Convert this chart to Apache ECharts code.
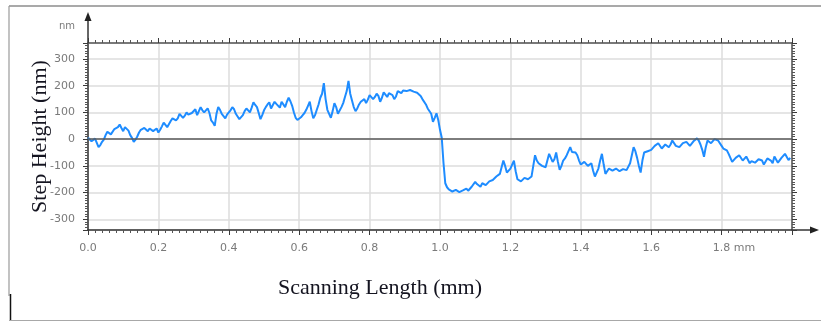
<!DOCTYPE html>
<html><head><meta charset="utf-8">
<script src="https://cdn.jsdelivr.net/npm/echarts@6/dist/echarts.min.js"></script>
<style>html,body{margin:0;padding:0;background:#fff}#c{width:821px;height:322px}</style>
</head><body><div id="c"></div>
<script>
// Sampling step of the profile (mm)
const xStep = 0.005;
// Step height readings (nm), one every 0.005 mm from 0.000 mm to 1.995 mm
const heights = [
  5, 8, -8, -15, 2, -5, -30, -22, -10, -2, 15, 28, 30, 18, 20, 38, 35, 45, 55, 42,
  30, 45, 40, 32, 15, 5, -10, -2, 10, 25, 35, 30, 42, 48, 30, 40, 45, 30, 35, 40,
  25, 35, 48, 62, 60, 45, 50, 68, 78, 85, 70, 78, 95, 102, 80, 88, 100, 92, 85, 98,
  105, 112, 90, 95, 120, 108, 100, 95, 115, 98, 70, 62, 50, 95, 120, 110, 95, 88, 78, 92,
  100, 108, 120, 112, 95, 85, 75, 70, 90, 105, 115, 122, 100, 118, 138, 128, 120, 98, 75, 90,
  108, 120, 130, 138, 115, 122, 140, 132, 125, 118, 140, 135, 120, 140, 155, 142, 125, 100, 80, 72,
  70, 82, 90, 98, 110, 125, 140, 105, 78, 90, 110, 130, 155, 170, 210, 150, 110, 95, 80, 105,
  135, 120, 95, 100, 120, 135, 158, 180, 218, 170, 145, 120, 105, 115, 130, 140, 146, 150, 135, 148,
  165, 160, 150, 158, 170, 162, 140, 155, 175, 168, 158, 172, 170, 165, 150, 160, 180, 176, 172, 182,
  186, 180, 178, 184, 183, 178, 176, 174, 170, 162, 150, 145, 130, 115, 108, 95, 65, 80, 97, 72,
  35, 5, -90, -165, -180, -188, -190, -196, -195, -190, -192, -198, -197, -192, -188, -185, -193, -186, -178, -172,
  -160, -168, -175, -178, -165, -160, -172, -175, -158, -162, -153, -150, -140, -142, -130, -105, -80, -100, -125, -130,
  -110, -95, -80, -120, -150, -145, -158, -155, -145, -140, -150, -152, -140, -100, -60, -80, -90, -85, -100, -95,
  -105, -80, -55, -70, -85, -75, -50, -85, -115, -100, -80, -72, -60, -45, -30, -48, -55, -50, -60, -80,
  -95, -100, -85, -88, -100, -105, -90, -118, -140, -125, -110, -80, -55, -95, -130, -125, -110, -105, -118, -122,
  -110, -115, -120, -122, -112, -108, -116, -112, -90, -60, -30, -45, -70, -100, -125, -80, -50, -55, -45, -48,
  -40, -35, -25, -30, -15, -20, -35, -28, -20, -15, -30, -20, -5, -10, -25, -18, -30, -35, -15, -20,
  -10, -15, -25, -20, -8, -12, 3, -5, -20, -40, -66, -30, -5, -8, -15, -10, 0, 2, -5, -12,
  -25, -35, -40, -42, -55, -60, -85, -78, -70, -75, -60, -65, -80, -85, -65, -72, -90, -82, -75, -88,
  -85, -75, -68, -80, -95, -88, -72, -70, -80, -90, -65, -72, -88, -95, -70, -68, -55, -62, -78, -70
];
// Axis ranges and tick settings
const xRange = [0, 2];
const xTickStep = 0.2;
const yRange = [-340, 360];
const ySplits = 7;
const xUnitTick = '1.8';
const axisUnit = 'mm';
const yUnit = 'nm';
const xTitle = 'Scanning Length (mm)';
const yTitle = 'Step Height (nm)';

const points = heights.map((v, i) => [+(i * xStep).toFixed(4), v]);

const chart = echarts.init(document.getElementById('c'), null, {renderer: 'canvas'});
const lblFont = 'DejaVu Sans';
const gridLine = {show: true, lineStyle: {color: '#dcdcdc', width: 1.5}};
const majorTick = {show: true, inside: false, length: 5, lineStyle: {color: '#3a3a3a', width: 1}};
const minorTick = {show: true, splitNumber: 10, length: 3, lineStyle: {color: '#555', width: 1}};

const option = {
  animation: false,
  backgroundColor: '#fff',
  grid: {left: 88, top: 43, right: 29, bottom: 92, containLabel: false},
  xAxis: [{
    type: 'value', position: 'bottom', min: xRange[0], max: xRange[1], interval: xTickStep,
    axisLine: {show: true, onZero: false, lineStyle: {color: '#333', width: 1.5}},
    axisTick: majorTick, minorTick: minorTick,
    splitLine: gridLine,
    axisLabel: {
      show: true, margin: 13, color: '#7a7a7a', fontSize: 11, fontFamily: lblFont,
      showMaxLabel: false,
      formatter: v => {
        const s = v.toFixed(1);
        return s === xUnitTick ? '{h| ' + axisUnit + '}' + s + '{u| ' + axisUnit + '}' : s;
      },
      rich: {
        h: {color: 'rgba(0,0,0,0)', fontSize: 11, fontFamily: lblFont},
        u: {color: '#7a7a7a', fontSize: 11, fontFamily: lblFont}
      }
    },
    name: xTitle, nameLocation: 'middle', nameGap: 47,
    nameTextStyle: {fontFamily: 'Liberation Serif', fontSize: 22, color: '#141420', padding: [0, 120, 0, 0]}
  }, {
    type: 'value', position: 'top', min: xRange[0], max: xRange[1], interval: xTickStep,
    axisLine: {show: true, onZero: false, lineStyle: {color: '#555', width: 1.5}},
    axisTick: majorTick, minorTick: minorTick,
    splitLine: {show: false}, axisLabel: {show: false}
  }],
  yAxis: [{
    type: 'value', position: 'left', min: yRange[0], max: yRange[1], splitNumber: ySplits,
    axisLine: {show: true, onZero: false, lineStyle: {color: '#333', width: 1.5}},
    axisTick: majorTick, minorTick: minorTick,
    splitLine: gridLine,
    axisLabel: {show: true, margin: 13, color: '#7a7a7a', fontSize: 11, fontFamily: lblFont,
      showMinLabel: false, showMaxLabel: false},
    name: yTitle, nameLocation: 'middle', nameGap: 37, nameRotate: 90, nameMoveOverlap: false,
    nameTextStyle: {fontFamily: 'Liberation Serif', fontSize: 22, color: '#141420'}
  }, {
    type: 'value', position: 'right', min: yRange[0], max: yRange[1], splitNumber: ySplits,
    axisLine: {show: true, onZero: false, lineStyle: {color: '#555', width: 1.5}},
    axisTick: majorTick, minorTick: minorTick,
    splitLine: {show: false}, axisLabel: {show: false}
  }],
  series: [{
    type: 'line', xAxisIndex: 0, yAxisIndex: 0, data: points,
    showSymbol: false, symbol: 'none', sampling: null,
    lineStyle: {color: '#1e8cff', width: 2},
    markLine: {
      silent: true, symbol: ['none', 'none'], label: {show: false},
      lineStyle: {color: '#5a5a5a', width: 1.6, type: 'solid'},
      data: [{yAxis: 0}]
    },
    z: 3
  }]
};
chart.setOption(option);

const x0 = chart.convertToPixel({xAxisIndex: 0}, xRange[0]);
const x1 = chart.convertToPixel({xAxisIndex: 0}, xRange[1]);
const yb = chart.convertToPixel({yAxisIndex: 0}, yRange[0]);
const yt = chart.convertToPixel({yAxisIndex: 0}, yRange[1]);
const W = 821;

chart.setOption({
  graphic: [
    // outer frame of the picture
    {type: 'line', shape: {x1: 9, y1: 6, x2: W, y2: 6}, style: {stroke: '#8c8c8c', lineWidth: 1.5}, silent: true},
    {type: 'line', shape: {x1: 9, y1: 6, x2: 9, y2: 296}, style: {stroke: '#9a9a9a', lineWidth: 1.2}, silent: true},
    {type: 'line', shape: {x1: 10.5, y1: 294, x2: 10.5, y2: 321}, style: {stroke: '#111', lineWidth: 1.5}, silent: true},
    {type: 'line', shape: {x1: 9, y1: 320.5, x2: W, y2: 320.5}, style: {stroke: '#a8a8a8', lineWidth: 1.2}, silent: true},
    // x-axis arrow extension
    {type: 'line', shape: {x1: x1, y1: yb, x2: 813, y2: yb}, style: {stroke: '#333', lineWidth: 1.5}, silent: true},
    {type: 'polygon', shape: {points: [[819, yb], [810, yb - 3.5], [810, yb + 3.5]]}, style: {fill: '#222'}, silent: true},
    // y-axis arrow extension
    {type: 'line', shape: {x1: x0, y1: yt, x2: x0, y2: 18}, style: {stroke: '#333', lineWidth: 1.5}, silent: true},
    {type: 'polygon', shape: {points: [[x0, 12], [x0 - 3.5, 21], [x0 + 3.5, 21]]}, style: {fill: '#222'}, silent: true},
    // unit label of the y axis
    {type: 'text', x: x0 - 13, y: 26, style: {text: yUnit, align: 'right', verticalAlign: 'middle',
      fill: '#7a7a7a', font: '10px "DejaVu Sans"'}, silent: true}
  ]
});
</script>
</body></html>
